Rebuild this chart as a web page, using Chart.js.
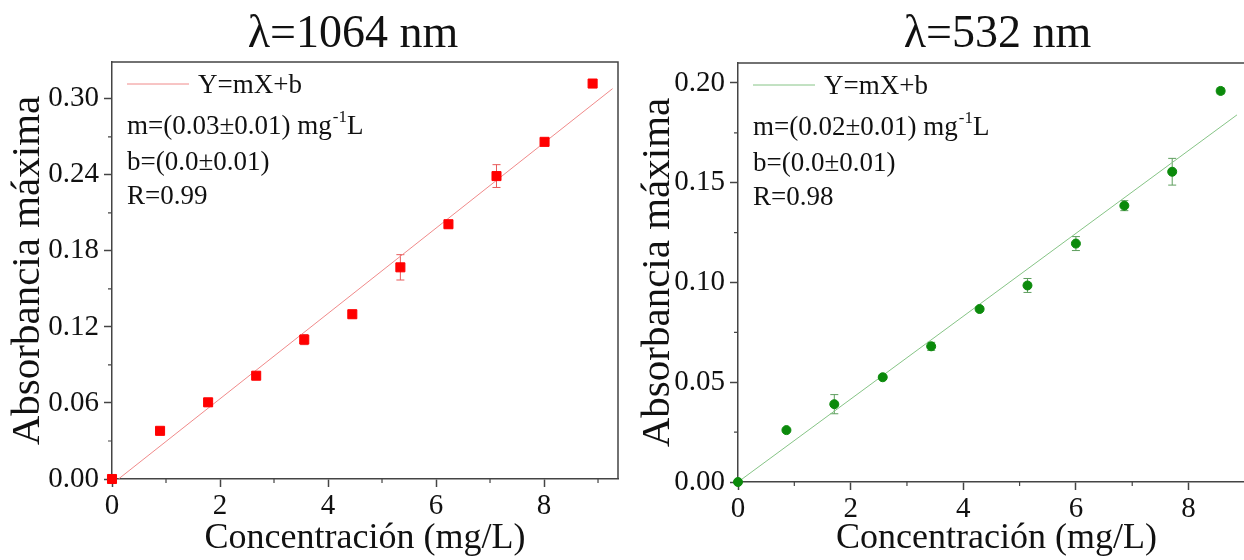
<!DOCTYPE html>
<html>
<head>
<meta charset="utf-8">
<script src="https://cdn.jsdelivr.net/npm/chart.js@4.4.0/dist/chart.umd.min.js"></script>
<style>
html, body { margin: 0; padding: 0; background: #fff; width: 1244px; height: 560px; overflow: hidden; position: relative; }
canvas { position: absolute; top: 0; }
#chart1 { left: 0; }
#chart2 { left: 630px; }
</style>
</head>
<body>
<canvas id="chart1" width="630" height="560"></canvas>
<canvas id="chart2" width="640" height="560"></canvas>
<script>
// lambda = 1064 nm
var conc1064 = [0, 0.89, 1.78, 2.67, 3.56, 4.45, 5.34, 6.23, 7.12, 8.01, 8.90];
var abs1064  = [0, 0.038, 0.0605, 0.0815, 0.110, 0.130, 0.167, 0.201, 0.239, 0.266, 0.312];
var err1064  = [0, 0.001, 0.003, 0.002, 0.004, 0.003, 0.010, 0.003, 0.009, 0.002, 0.001];
var fitX1064 = [0.12, 9.27];
var fitY1064 = [0, 0.308];
var xTicks1064 = [0, 2, 4, 6, 8];
var yTicks1064 = [0, 0.06, 0.12, 0.18, 0.24, 0.30];
var legend1064 = ['Y=mX+b', 'm=(0.03\u00b10.01) mg', 'b=(0.0\u00b10.01)', 'R=0.99'];

// lambda = 532 nm
var conc532 = [0, 0.86, 1.71, 2.57, 3.43, 4.29, 5.14, 6.00, 6.86, 7.71, 8.57];
var abs532  = [0, 0.026, 0.039, 0.0525, 0.068, 0.0867, 0.0985, 0.1195, 0.1385, 0.1555, 0.196];
var err532  = [0, 0.0005, 0.0048, 0.001, 0.002, 0.001, 0.0035, 0.0035, 0.0025, 0.0067, 0.0015];
var fitX532 = [0, 8.86];
var fitY532 = [0, 0.184];
var xTicks532 = [0, 2, 4, 6, 8];
var yTicks532 = [0, 0.05, 0.10, 0.15, 0.20];
var legend532 = ['Y=mX+b', 'm=(0.02\u00b10.01) mg', 'b=(0.0\u00b10.01)', 'R=0.98'];

var serif = "'Liberation Serif', 'Times New Roman', serif";
var frame = '#444';

function toPoints(xs, ys) {
  return xs.map(function (x, i) { return { x: x, y: ys[i] }; });
}

// error bars, frame, minor ticks, title and the fit legend
var panelDeco = {
  id: 'panelDeco',
  beforeDatasetsDraw: function (chart, args, o) {
    var ctx = chart.ctx, sx = chart.scales.x, sy = chart.scales.y;
    ctx.save();
    ctx.strokeStyle = o.errColor;
    ctx.lineWidth = 1;
    o.xs.forEach(function (v, i) {
      var e = o.err[i];
      if (!e) return;
      var px = sx.getPixelForValue(v);
      var t = sy.getPixelForValue(o.ys[i] + e), b = sy.getPixelForValue(o.ys[i] - e);
      ctx.beginPath();
      ctx.moveTo(px, t); ctx.lineTo(px, b);
      ctx.moveTo(px - 4, t); ctx.lineTo(px + 4, t);
      ctx.moveTo(px - 4, b); ctx.lineTo(px + 4, b);
      ctx.stroke();
    });
    ctx.restore();
  },
  afterDraw: function (chart, args, o) {
    var ctx = chart.ctx, a = chart.chartArea, sx = chart.scales.x, sy = chart.scales.y;
    ctx.save();
    // top and right frame
    ctx.strokeStyle = frame;
    ctx.lineWidth = 1.5;
    ctx.beginPath();
    ctx.moveTo(a.left, a.top); ctx.lineTo(a.right, a.top); ctx.lineTo(a.right, a.bottom);
    ctx.stroke();
    // minor ticks
    ctx.lineWidth = 1.2;
    ctx.beginPath();
    for (var v = o.xMinor; v < sx.max; v += o.xMinor * 2) {
      var px = sx.getPixelForValue(v);
      ctx.moveTo(px, a.bottom); ctx.lineTo(px, a.bottom + 4);
    }
    for (var w = o.yMinor; w < sy.max; w += o.yMinor * 2) {
      var py = sy.getPixelForValue(w);
      ctx.moveTo(a.left, py); ctx.lineTo(a.left - 4, py);
    }
    ctx.stroke();
    // title
    ctx.fillStyle = '#111';
    ctx.font = '46px ' + serif;
    ctx.textAlign = 'center';
    ctx.textBaseline = 'alphabetic';
    ctx.fillText(o.title, (a.left + a.right) / 2 + o.titleDx, 47);
    // legend of the fit
    var L = a.left, T = a.top, rows = o.rows;
    ctx.strokeStyle = o.fitColor;
    ctx.lineWidth = 1;
    ctx.beginPath();
    ctx.moveTo(L + 15, T + rows[0] - 9); ctx.lineTo(L + 77, T + rows[0] - 9);
    ctx.stroke();
    ctx.textAlign = 'left';
    ctx.font = '27px ' + serif;
    ctx.fillText(o.lines[0], L + 86, T + rows[0]);
    ctx.fillText(o.lines[1], L + 15, T + rows[1]);
    var x2 = L + 15 + ctx.measureText(o.lines[1]).width;
    ctx.font = '17px ' + serif;
    ctx.fillText('-1', x2 + 1, T + rows[1] - 12);
    x2 += ctx.measureText('-1').width + 1;
    ctx.font = '27px ' + serif;
    ctx.fillText('L', x2, T + rows[1]);
    ctx.fillText(o.lines[2], L + 15, T + rows[2]);
    ctx.fillText(o.lines[3], L + 15, T + rows[3]);
    ctx.restore();
  }
};

function makeChart(id, p) {
  var ctx = document.getElementById(id).getContext('2d');
  return new Chart(ctx, {
    type: 'scatter',
    data: {
      datasets: [{
        label: 'datos',
        data: toPoints(p.xs, p.ys),
        backgroundColor: p.color,
        borderColor: p.color,
        pointStyle: p.marker,
        pointRadius: p.radius,
        pointHoverRadius: p.radius,
        clip: false,
        order: 1
      }, {
        label: 'Y=mX+b',
        data: toPoints(p.fitX, p.fitY),
        showLine: true,
        borderColor: p.fitColor,
        borderWidth: 1,
        pointRadius: 0,
        order: 2
      }]
    },
    options: {
      responsive: false,
      animation: false,
      devicePixelRatio: 1,
      layout: { padding: { top: p.top, right: p.padRight, left: 0, bottom: 0 } },
      plugins: {
        legend: { display: false },
        tooltip: { enabled: false },
        panelDeco: {
          xs: p.xs, ys: p.ys, err: p.err, errColor: p.errColor,
          fitColor: p.fitColor, xMinor: 1, yMinor: p.yMinor,
          title: p.title, titleDx: p.titleDx, lines: p.lines, rows: [31, 72, 108, 142]
        }
      },
      scales: {
        x: {
          type: 'linear',
          min: 0,
          max: p.xMax,
          afterFit: function (s) { s.height = p.xHeight; },
          afterBuildTicks: function (s) { s.ticks = p.xTicks.map(function (v) { return { value: v }; }); },
          border: { color: frame, width: 1.5 },
          grid: { drawOnChartArea: false, drawTicks: true, tickLength: 8, tickWidth: 1.5, tickColor: frame },
          ticks: { color: '#111', font: { family: serif, size: 29 }, padding: 2, autoSkip: false, maxRotation: 0,
                   callback: function (v) { return String(v); } },
          title: { display: true, text: 'Concentración (mg/L)', color: '#111',
                   font: { family: serif, size: 36 }, padding: { top: 0, bottom: 0 } }
        },
        y: {
          type: 'linear',
          min: 0,
          max: p.yMax,
          afterFit: function (s) { s.width = p.yWidth; },
          afterBuildTicks: function (s) { s.ticks = p.yTicks.map(function (v) { return { value: v }; }); },
          border: { color: frame, width: 1.5 },
          grid: { drawOnChartArea: false, drawTicks: true, tickLength: 8, tickWidth: 1.5, tickColor: frame },
          ticks: { color: '#111', font: { family: serif, size: 29 }, padding: 5, autoSkip: false,
                   callback: function (v) { return v.toFixed(2); } },
          title: { display: true, text: 'Absorbancia máxima', color: '#111',
                   font: { family: serif, size: 41 }, padding: { top: 4, bottom: 0 } }
        }
      }
    },
    plugins: [panelDeco]
  });
}

makeChart('chart1', {
  xs: conc1064, ys: abs1064, err: err1064, fitX: fitX1064, fitY: fitY1064,
  xTicks: xTicks1064, yTicks: yTicks1064, lines: legend1064,
  title: '\u03bb=1064 nm', titleDx: -12,
  color: '#ff0000', errColor: '#e85a5a', fitColor: '#f08a8a', marker: 'rect', radius: 6.4,
  xMax: 9.37, yMax: 0.329, yMinor: 0.03,
  top: 62, padRight: 12, yWidth: 112, xHeight: 81
});

makeChart('chart2', {
  xs: conc532, ys: abs532, err: err532, fitX: fitX532, fitY: fitY532,
  xTicks: xTicks532, yTicks: yTicks532, lines: legend532,
  title: '\u03bb=532 nm', titleDx: 1,
  color: '#0b8a0b', errColor: '#5e9e5e', fitColor: '#86c486', marker: 'circle', radius: 4.5,
  xMax: 9.18, yMax: 0.21, yMinor: 0.025,
  top: 63, padRight: 15, yWidth: 108, xHeight: 78
});
</script>
</body>
</html>
